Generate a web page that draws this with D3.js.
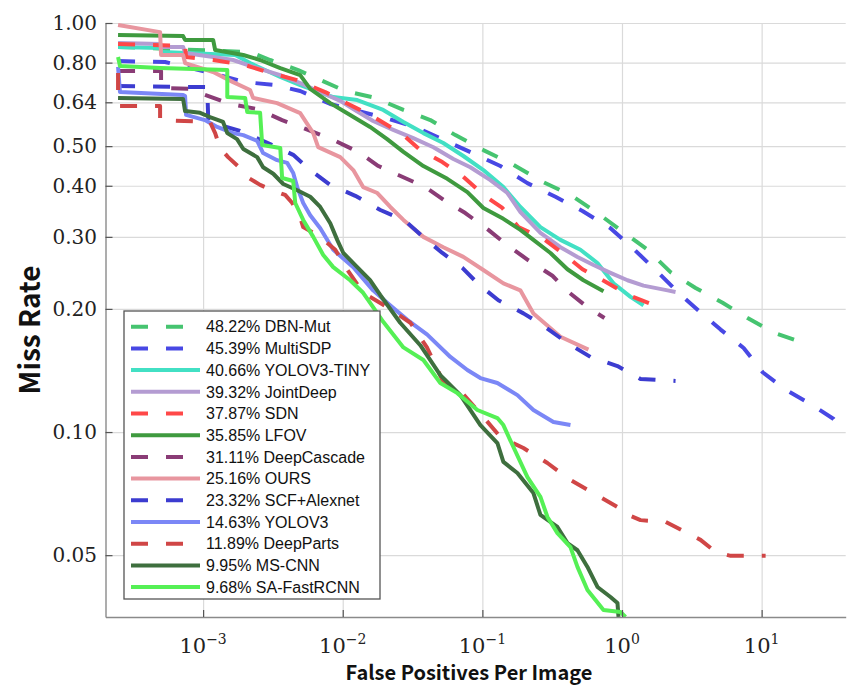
<!DOCTYPE html>
<html>
<head>
<meta charset="utf-8">
<script src="https://cdnjs.cloudflare.com/ajax/libs/d3/7.8.5/d3.min.js"></script>
<style>
  body { margin: 0; background: #fff; }
  svg { display: block; }
</style>
</head>
<body>
<svg id="chart"></svg>
<script>
// ---------- data : [false positives per image, miss rate] ----------
const methods = ["DBN-Mut", "MultiSDP", "YOLOV3-TINY", "JointDeep", "SDN", "LFOV", "DeepCascade",
                 "OURS", "SCF+Alexnet", "YOLOV3", "DeepParts", "MS-CNN", "SA-FastRCNN"];
const avgMissRate = [48.22, 45.39, 40.66, 39.32, 37.87, 35.85, 31.11, 25.16, 23.32, 14.63, 11.89, 9.95, 9.68];
const colors = ["#46c470", "#4848e4", "#42e0c4", "#b49cd2", "#ff4848", "#3f9a3f", "#8a3c76",
                "#e8969f", "#3c3cd0", "#7b87f6", "#d04646", "#3e6f3e", "#55f055"];
const dashed = [true, true, false, false, true, false, true, false, true, false, true, false, false];

const xTicks = [1e-3, 1e-2, 1e-1, 1, 10];
const xTickExp = ["\u22123", "\u22122", "\u22121", "0", "1"];
const yTicks = [0.05, 0.10, 0.20, 0.30, 0.40, 0.50, 0.64, 0.80, 1.00];

const dbnMut = [[2.46e-4,0.874],[2.17e-3,0.849],[3.02e-3,0.812],[4.80e-3,0.767],[6.90e-3,0.726],[0.0104,0.682],
  [0.0171,0.656],[0.0272,0.613],[0.0424,0.579],[0.0641,0.532],[0.1017,0.489],[0.1668,0.450],[0.2737,0.408],
  [0.4274,0.380],[0.667,0.343],[1.025,0.308],[1.523,0.279],[2.227,0.246],[3.365,0.225],[5.253,0.207],
  [7.935,0.190],[12.19,0.175],[20.0,0.165],[21.7,0.163]];
const multiSDP = [[2.46e-4,0.807],[5.34e-4,0.803],[1.22e-3,0.750],[2.0e-3,0.717],[3.28e-3,0.705],[4.96e-3,0.682],
  [8.14e-3,0.634],[0.0202,0.586],[0.0331,0.557],[0.0525,0.518],[0.0848,0.481],[0.1346,0.447],[0.2102,0.406],
  [0.3337,0.376],[0.521,0.347],[0.827,0.315],[1.189,0.282],[1.739,0.249],[2.541,0.219],[3.535,0.198],
  [5.083,0.178],[7.43,0.1605],[10.17,0.140],[14.86,0.127],[22.45,0.117],[32.8,0.1076],[35.6,0.104]];
const yolov3Tiny = [[2.46e-4,0.874],[4.92e-4,0.869],[5.08e-4,0.849],[1.70e-3,0.835],[2.17e-3,0.798],[3.57e-3,0.738],
  [4.96e-3,0.705],[8.55e-3,0.659],[0.0127,0.648],[0.0195,0.613],[0.0272,0.573],[0.0378,0.538],[0.0525,0.509],
  [0.0731,0.473],[0.1017,0.437],[0.1414,0.397],[0.1873,0.355],[0.2605,0.317],[0.3624,0.295],[0.504,0.279],
  [0.667,0.259],[0.869,0.231],[1.151,0.214],[1.426,0.204]];
const jointDeep = [[2.46e-4,0.894],[4.92e-4,0.888],[5.08e-4,0.874],[7.19e-4,0.874],[7.43e-4,0.845],[1.18e-3,0.826],
  [1.64e-3,0.812],[2.28e-3,0.781],[3.57e-3,0.746],[4.96e-3,0.713],[6.90e-3,0.678],[9.6e-3,0.645],[0.0119,0.616],
  [0.0165,0.576],[0.0230,0.548],[0.0320,0.523],[0.0446,0.497],[0.0620,0.465],[0.0820,0.444],[0.1141,0.413],
  [0.1511,0.384],[0.1873,0.345],[0.2605,0.307],[0.3624,0.283],[0.480,0.268],[0.625,0.256],[0.827,0.245],
  [1.095,0.235],[1.426,0.228],[2.12,0.222],[2.418,0.220]];
const sdn = [[2.46e-4,0.888],[7.43e-4,0.879],[7.55e-4,0.826],[1.18e-3,0.812],[2.0e-3,0.789],[3.02e-3,0.755],
  [4.64e-3,0.726],[7.49e-3,0.678],[0.01095,0.634],[0.01627,0.592],[0.0267,0.535],[0.0359,0.489],[0.0517,0.457],
  [0.0719,0.423],[0.1017,0.380],[0.1391,0.353],[0.1812,0.317],[0.2692,0.298],[0.3745,0.274],[0.521,0.250],
  [0.7615,0.233],[1.113,0.216],[1.601,0.206],[1.984,0.204]];
const lfov = [[2.46e-4,0.935],[7.19e-4,0.929],[7.43e-4,0.909],[1.18e-3,0.909],[1.22e-3,0.859],[1.94e-3,0.835],
  [2.56e-3,0.812],[3.57e-3,0.776],[4.96e-3,0.746],[5.85e-3,0.690],[8.14e-3,0.637],[0.0113,0.596],[0.0157,0.557],
  [0.0208,0.520],[0.0272,0.484],[0.0378,0.447],[0.0561,0.416],[0.0781,0.386],[0.1017,0.353],[0.1414,0.332],
  [0.1873,0.312],[0.2321,0.295],[0.3073,0.274],[0.4067,0.250],[0.5297,0.235],[0.737,0.221]];
const deepCascade = [[2.46e-4,0.763],[5.0e-4,0.763],[5.0e-4,0.694],[8.07e-4,0.690],[1.03e-3,0.667],[1.56e-3,0.634],
  [2.44e-3,0.616],[3.68e-3,0.579],[5.21e-3,0.554],[8.55e-3,0.518],[0.0129,0.484],[0.0180,0.447],[0.0250,0.425],
  [0.0390,0.397],[0.0543,0.367],[0.0755,0.343],[0.1104,0.312],[0.1536,0.285],[0.2137,0.263],[0.3176,0.241],
  [0.4135,0.220],[0.5657,0.202],[0.749,0.190]];
const ours = [[2.46e-4,0.989],[4.92e-4,0.950],[5.0e-4,0.835],[7.19e-4,0.835],[7.43e-4,0.798],[1.18e-3,0.759],
  [1.64e-3,0.717],[2.17e-3,0.686],[2.28e-3,0.656],[3.39e-3,0.637],[4.96e-3,0.602],[6.15e-3,0.538],[6.67e-3,0.497],
  [9.6e-3,0.470],[0.0119,0.437],[0.0140,0.397],[0.0177,0.384],[0.0219,0.355],[0.0272,0.330],[0.0378,0.300],
  [0.0525,0.283],[0.0731,0.268],[0.1016,0.249],[0.1415,0.231],[0.187,0.222],[0.232,0.195],[0.362,0.171],[0.575,0.159]];
const scfAlexnet = [[2.46e-4,0.701],[1.07e-3,0.697],[1.09e-3,0.573],[1.84e-3,0.545],[3.02e-3,0.506],[4.42e-3,0.476],
  [5.95e-3,0.435],[8.14e-3,0.402],[0.0123,0.378],[0.0186,0.349],[0.0281,0.328],[0.0384,0.298],[0.0517,0.274],
  [0.0719,0.252],[0.0936,0.230],[0.1302,0.210],[0.1968,0.195],[0.2737,0.182],[0.4067,0.165],[0.5945,0.1526],
  [0.928,0.145],[1.357,0.1348],[2.418,0.1333]];
const yolov3 = [[2.46e-4,0.781],[2.54e-4,0.678],[7.19e-4,0.667],[7.43e-4,0.663],[7.55e-4,0.596],[1.03e-3,0.579],
  [1.26e-3,0.557],[1.64e-3,0.538],[1.94e-3,0.532],[2.44e-3,0.515],[2.69e-3,0.481],[3.39e-3,0.462],[4.0e-3,0.455],
  [4.42e-3,0.430],[4.72e-3,0.397],[5.21e-3,0.363],[5.85e-3,0.339],[6.90e-3,0.315],[8.55e-3,0.279],[0.0119,0.253],
  [0.0165,0.222],[0.0208,0.207],[0.0290,0.188],[0.0403,0.173],[0.0590,0.1526],[0.0781,0.1418],[0.0968,0.1355],
  [0.1281,0.1318],[0.1782,0.1231],[0.2321,0.1132],[0.3228,0.1058],[0.4274,0.104]];
const deepParts = [[2.46e-4,0.755],[2.46e-4,0.627],[4.92e-4,0.627],[4.92e-4,0.579],[1.12e-3,0.573],[1.22e-3,0.538],
  [1.32e-3,0.495],[1.51e-3,0.470],[1.84e-3,0.442],[2.07e-3,0.420],[2.56e-3,0.402],[3.12e-3,0.390],[3.87e-3,0.380],
  [4.35e-3,0.363],[4.96e-3,0.334],[5.21e-3,0.317],[6.90e-3,0.300],[8.84e-3,0.279],[0.0108,0.249],[0.0140,0.219],
  [0.0208,0.202],[0.0305,0.185],[0.0403,0.1605],[0.0517,0.134],[0.0719,0.1245],[0.1017,0.1088],[0.1346,0.0972],
  [0.1968,0.0914],[0.2924,0.0840],[0.4274,0.0763],[0.6248,0.0709],[0.928,0.0656],[1.025,0.0634],[1.357,0.0609],
  [2.05,0.0603],[3.65,0.0545],[4.68,0.0509],[6.0,0.0498],[10.68,0.0498]];
const msCnn = [[2.46e-4,0.656],[7.19e-4,0.652],[7.43e-4,0.609],[9.52e-4,0.603],[1.12e-3,0.589],[1.39e-3,0.573],
  [1.49e-3,0.538],[1.75e-3,0.520],[1.94e-3,0.492],[2.44e-3,0.470],[2.69e-3,0.444],[3.18e-3,0.428],[3.75e-3,0.404],
  [4.72e-3,0.390],[5.85e-3,0.376],[6.90e-3,0.355],[8.14e-3,0.324],[9.13e-3,0.295],[0.0101,0.274],[0.0127,0.253],
  [0.0157,0.235],[0.0186,0.216],[0.0258,0.185],[0.0359,0.163],[0.0500,0.1378],[0.0696,0.1231],[0.0968,0.104],
  [0.1281,0.0940],[0.1414,0.0845],[0.1782,0.0794],[0.2321,0.0709],[0.2605,0.0627],[0.3448,0.0586],[0.4067,0.0535],
  [0.4797,0.0514],[0.5657,0.0468],[0.6674,0.0418],[0.827,0.0395],[0.928,0.0382],[0.944,0.0353]];
const saFastRcnn = [[2.46e-4,0.826],[2.54e-4,0.785],[4.92e-4,0.776],[1.49e-3,0.767],[1.49e-3,0.659],[2.0e-3,0.656],
  [2.07e-3,0.606],[2.56e-3,0.603],[2.65e-3,0.503],[3.57e-3,0.495],[3.68e-3,0.418],[4.42e-3,0.411],[4.57e-3,0.363],
  [5.21e-3,0.330],[6.15e-3,0.300],[7.25e-3,0.271],[8.55e-3,0.253],[0.0113,0.235],[0.0140,0.219],[0.0165,0.202],
  [0.0195,0.186],[0.0272,0.161],[0.0378,0.150],[0.0500,0.1318],[0.0662,0.1245],[0.0921,0.1132],[0.1281,0.1082],
  [0.1414,0.104],[0.1668,0.0919],[0.2102,0.0776],[0.2605,0.0694],[0.2924,0.0620],[0.3448,0.0566],[0.4274,0.0523],
  [0.4797,0.0468],[0.5657,0.0411],[0.737,0.0367],[0.9755,0.0363],[1.06,0.0353]];

const curves = [dbnMut, multiSDP, yolov3Tiny, jointDeep, sdn, lfov, deepCascade,
                ours, scfAlexnet, yolov3, deepParts, msCnn, saFastRcnn];

const series = methods.map((m, i) => ({
  label: `${avgMissRate[i].toFixed(2)}% ${m}`,
  color: colors[i], dashed: dashed[i], values: curves[i]
}));

// ---------- layout ----------
const width = 849, height = 686;
const margin = { top: 23, right: 3.3, bottom: 69, left: 105.5 };
const w = width - margin.left - margin.right;
const h = height - margin.top - margin.bottom;
const dash = "17,18";

const svg = d3.select("#chart").attr("width", width).attr("height", height);
const g = svg.append("g").attr("transform", `translate(${margin.left},${margin.top})`);

const x = d3.scaleLog().domain([2e-4, 40]).range([0, w]);
const y = d3.scaleLog().domain([0.0353, 1]).range([h, 0]);

// grid
g.append("g")
  .attr("transform", `translate(0,${h})`)
  .call(d3.axisBottom(x).tickValues(xTicks).tickSize(-h).tickFormat(""))
  .call(s => s.select(".domain").remove())
  .selectAll("line").attr("stroke", "#dadada").attr("stroke-width", 1.2);

g.append("g")
  .call(d3.axisLeft(y).tickValues(yTicks).tickSize(-w).tickFormat(""))
  .call(s => s.select(".domain").remove())
  .selectAll("line").attr("stroke", "#dadada").attr("stroke-width", 1.2);

// curves
svg.append("defs").append("clipPath").attr("id", "plotclip")
  .append("rect").attr("width", w).attr("height", h);

const line = d3.line().x(d => x(d[0])).y(d => y(d[1]));

g.append("g").attr("clip-path", "url(#plotclip)")
  .selectAll("path").data(series).join("path")
  .attr("d", d => line(d.values))
  .attr("fill", "none")
  .attr("stroke", d => d.color)
  .attr("stroke-width", 4)
  .attr("stroke-linejoin", "round")
  .attr("stroke-dasharray", d => d.dashed ? dash : null);

// axes
const yAxis = g.append("g")
  .call(d3.axisLeft(y).tickValues(yTicks).tickSize(-7).tickSizeOuter(0)
        .tickPadding(8.5).tickFormat(d3.format(".2f")));
yAxis.selectAll("text")
  .style("font-family", "DejaVu Serif").style("font-size", "20px").attr("fill", "#222");

const xAxis = g.append("g")
  .attr("transform", `translate(0,${h})`)
  .call(d3.axisBottom(x).tickValues(xTicks).tickSize(-7).tickSizeOuter(0).tickFormat(""));

[yAxis, xAxis].forEach(a => {
  a.select(".domain").attr("stroke", "#8a8a8a").attr("stroke-width", 1.4);
  a.selectAll(".tick line").attr("stroke", "#555").attr("stroke-width", 1.2);
});

const xl = g.append("g").selectAll("text").data(xTicks).join("text")
  .attr("x", d => x(d)).attr("y", h + 36)
  .attr("text-anchor", "middle")
  .style("font-family", "DejaVu Serif").style("font-size", "21px").attr("fill", "#222");
xl.append("tspan").text("10");
xl.append("tspan").attr("dy", -9).style("font-size", "14px").text((d, i) => xTickExp[i]);

// axis titles
svg.append("text")
  .attr("x", 469).attr("y", 680)
  .attr("text-anchor", "middle")
  .style("font-family", "'Noto Sans CJK SC'").style("font-weight", 700).style("font-size", "20px")
  .attr("fill", "#111")
  .text("False Positives Per Image");

svg.append("text")
  .attr("transform", "translate(40,330) rotate(-90)")
  .attr("text-anchor", "middle")
  .style("font-family", "'Noto Sans CJK SC'").style("font-weight", 700).style("font-size", "28px")
  .attr("fill", "#111")
  .text("Miss Rate");

// legend
const lg = svg.append("g").attr("transform", "translate(124,311)");
lg.append("rect").attr("width", 256).attr("height", 288)
  .attr("fill", "#fff").attr("stroke", "#555").attr("stroke-width", 1.3);

const row = lg.selectAll(".row").data(series).join("g")
  .attr("class", "row")
  .attr("transform", (d, i) => `translate(0,${15.7 + i * 21.7})`);
row.append("line")
  .attr("x1", 7).attr("x2", 76)
  .attr("stroke", d => d.color).attr("stroke-width", 4)
  .attr("stroke-dasharray", d => d.dashed ? dash : null);
row.append("text")
  .attr("x", 82).attr("dy", "0.36em")
  .style("font-family", "'Liberation Sans', Arial").style("font-size", "16px").attr("fill", "#111")
  .text(d => d.label);
</script>
</body>
</html>
